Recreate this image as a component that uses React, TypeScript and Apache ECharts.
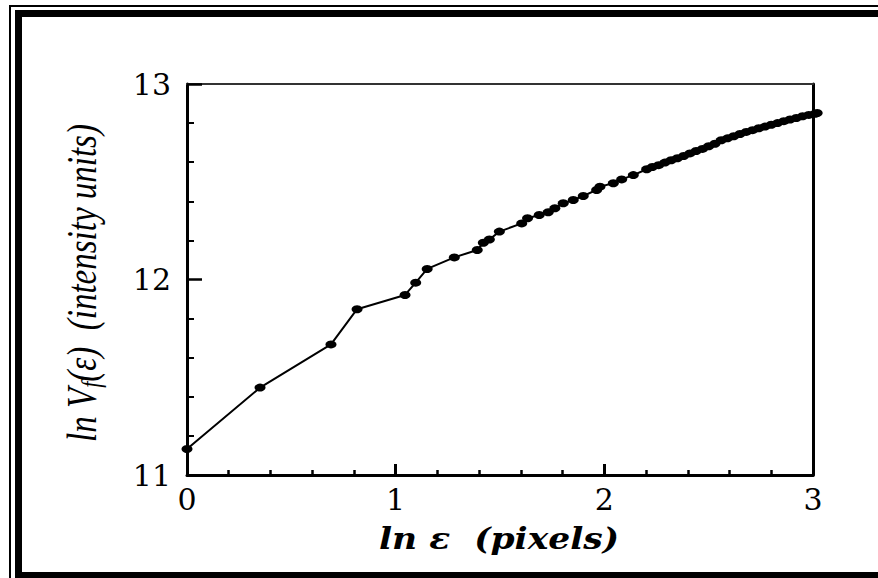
import React, { useEffect, useRef } from "react";
import * as echarts from "echarts";

// ln ε (pixels)
const lnEps: number[] = [
  0, 0.35, 0.69, 0.815, 1.045, 1.096, 1.151, 1.281, 1.391, 1.42, 1.449, 1.497,
  1.604, 1.632, 1.688, 1.731, 1.763, 1.803, 1.851, 1.899, 1.963, 1.979, 2.043,
  2.083, 2.139, 2.203, 2.23, 2.26, 2.29, 2.32, 2.35, 2.38, 2.41, 2.44, 2.47,
  2.5, 2.53, 2.56, 2.59, 2.62, 2.65, 2.68, 2.71, 2.74, 2.77, 2.8, 2.83, 2.86,
  2.89, 2.92, 2.95, 2.98, 3.01, 3.02,
];
// ln V_f(ε) (intensity units)
const lnV: number[] = [
  11.133, 11.447, 11.668, 11.848, 11.921, 11.984, 12.054, 12.113, 12.151,
  12.188, 12.205, 12.245, 12.287, 12.313, 12.33, 12.344, 12.364, 12.39, 12.407,
  12.427, 12.458, 12.475, 12.492, 12.512, 12.534, 12.564, 12.575, 12.585,
  12.598, 12.61, 12.62, 12.632, 12.645, 12.657, 12.668, 12.682, 12.694, 12.712,
  12.722, 12.733, 12.744, 12.755, 12.764, 12.774, 12.782, 12.792, 12.8, 12.81,
  12.818, 12.826, 12.835, 12.842, 12.848, 12.852,
];

const xRange: number[] = [0, 3];
const yRange: number[] = [11, 13];
const xTitle = "ln ε  (pixels)";
const yTitleParts: string[] = ["ln V", "f", "(ε)  (intensity units)"];

export default function App() {
  const ref = useRef<HTMLDivElement>(null);

  useEffect(() => {
    if (!ref.current) return;
    const chart = echarts.init(ref.current, null, { renderer: "svg" });
    const data = lnEps.map((x, i) => [x, lnV[i]]);
    const serif = "DejaVu Serif";
    const labelStyle = {
      color: "#000",
      fontFamily: serif,
      fontSize: 30,
    };
    chart.setOption({
      animation: false,
      backgroundColor: "#fff",
      grid: { left: 187, right: 65, top: 84, bottom: 103, show: false },
      xAxis: [
        {
          type: "value",
          min: xRange[0],
          max: xRange[1],
          interval: 1,
          position: "bottom",
          axisLine: { show: true, onZero: false, lineStyle: { color: "#000", width: 3 } },
          axisTick: { show: true, inside: true, length: 11, lineStyle: { color: "#000", width: 3 } },
          minorTick: { show: true, splitNumber: 5, length: 5, lineStyle: { color: "#000", width: 2.5 } },
          splitLine: { show: false },
          minorSplitLine: { show: false },
          axisLabel: { ...labelStyle, margin: 9 },
        },
        {
          type: "value",
          min: xRange[0],
          max: xRange[1],
          position: "top",
          axisLine: { show: true, onZero: false, lineStyle: { color: "#333", width: 2 } },
          axisTick: { show: false },
          axisLabel: { show: false },
          splitLine: { show: false },
        },
      ],
      yAxis: [
        {
          type: "value",
          min: yRange[0],
          max: yRange[1],
          interval: 1,
          position: "left",
          axisLine: { show: true, onZero: false, lineStyle: { color: "#000", width: 3 } },
          axisTick: { show: true, inside: true, length: 15, lineStyle: { color: "#000", width: 2.5 } },
          minorTick: { show: true, splitNumber: 5, length: 7, lineStyle: { color: "#000", width: 2 } },
          splitLine: { show: false },
          minorSplitLine: { show: false },
          axisLabel: { ...labelStyle, margin: 16 },
        },
        {
          type: "value",
          min: yRange[0],
          max: yRange[1],
          position: "right",
          axisLine: { show: true, onZero: false, lineStyle: { color: "#000", width: 3 } },
          axisTick: { show: false },
          axisLabel: { show: false },
          splitLine: { show: false },
        },
      ],
      series: [
        {
          type: "line",
          xAxisIndex: 0,
          yAxisIndex: 0,
          data,
          clip: false,
          symbol: "circle",
          symbolSize: [11, 8],
          showSymbol: true,
          lineStyle: { color: "#000", width: 2 },
          itemStyle: { color: "#000" },
          z: 5,
        },
      ],
      graphic: [
        // double frame
        { type: "rect", shape: { x: 9, y: 5, width: 880, height: 2 }, style: { fill: "#000" } },
        { type: "rect", shape: { x: 9, y: 5, width: 2, height: 590 }, style: { fill: "#000" } },
        { type: "rect", shape: { x: 15, y: 10, width: 880, height: 7 }, style: { fill: "#000" } },
        { type: "rect", shape: { x: 15, y: 10, width: 7, height: 590 }, style: { fill: "#000" } },
        { type: "rect", shape: { x: 15, y: 572, width: 880, height: 10 }, style: { fill: "#000" } },
        // x title
        {
          type: "text",
          x: 499,
          y: 539,
          scaleX: 1.15,
          style: {
            text: xTitle,
            fill: "#000",
            font: "italic bold 30px 'DejaVu Serif'",
            align: "center",
            verticalAlign: "middle",
          },
        },
        // y title
        {
          type: "text",
          x: 82,
          y: 283,
          rotation: Math.PI / 2,
          scaleY: 1.25,
          style: {
            text: `{a|${yTitleParts[0]}}{s|${yTitleParts[1]}}{a|${yTitleParts[2]}}`,
            fill: "#000",
            align: "center",
            verticalAlign: "middle",
            rich: {
              a: {
                fontFamily: "Liberation Serif",
                fontStyle: "italic",
                fontSize: 33,
                lineHeight: 36,
                fill: "#000",
              },
              s: {
                fontFamily: "Liberation Serif",
                fontStyle: "italic",
                fontSize: 22,
                lineHeight: 16,
                verticalAlign: "bottom",
                fill: "#000",
              },
            },
          },
        },
      ],
    });
    return () => chart.dispose();
  }, []);

  return (
    <div
      ref={ref}
      style={{ position: "fixed", left: 0, top: 0, width: 878, height: 578, background: "#fff" }}
    />
  );
}
